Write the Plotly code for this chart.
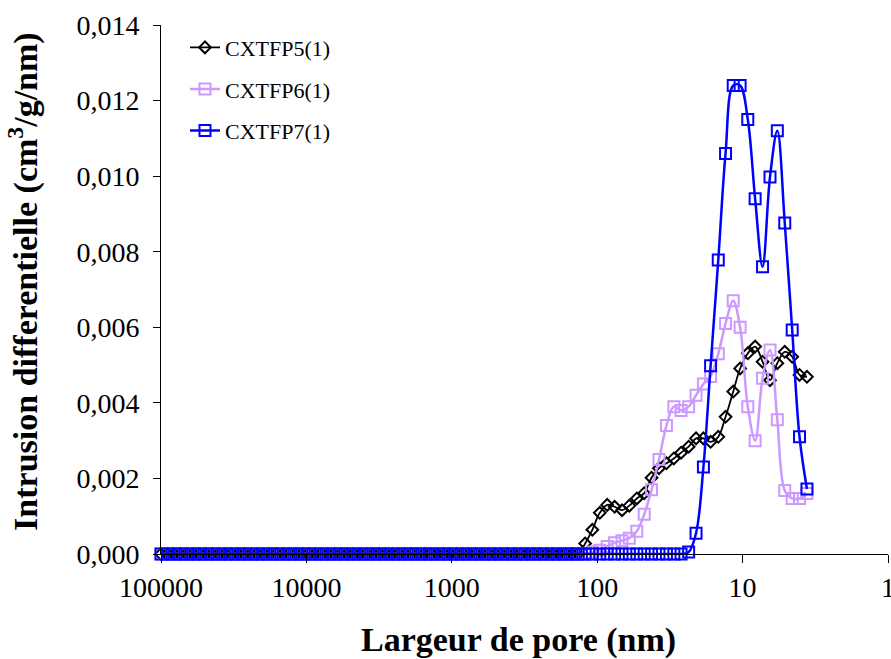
import plotly.graph_objects as go

# pore widths (nm), common grid of the three mercury intrusion curves
pore_nm = [
    100000, 90300, 81600, 73700, 66600, 60200, 54400, 49100, 44400, 40100,
    36200, 32700, 29500, 26700, 24100, 21800, 19700, 17800, 16000, 14500,
    13100, 11800, 10700, 9650, 8720, 7880, 7110, 6430, 5810, 5240,
    4740, 4280, 3870, 3490, 3150, 2850, 2570, 2330, 2100, 1900,
    1710, 1550, 1400, 1260, 1140, 1030, 931, 841, 760, 687,
    620, 560, 506, 457, 413, 373, 337, 304, 275, 248,
    224, 203, 183, 165, 149, 135,
    121, 108, 96.0, 85.4, 75.9, 67.5, 60.1, 53.4, 47.5, 42.3,
    37.6, 33.4, 29.7, 26.5, 23.5, 20.9, 18.6, 16.6, 14.7, 13.1,
    11.6, 10.4, 9.21, 8.20, 7.29, 6.48, 5.77, 5.13, 4.56, 4.06,
    3.61,
]

cxtfp5 = [
    0, 0, 0, 0, 0, 0, 0, 0, 0, 0, 0,
    0, 0, 0, 0, 0, 0, 0, 0, 0, 0, 0,
    0, 0, 0, 0, 0, 0, 0, 0, 0, 0, 0,
    0, 0, 0, 0, 0, 0, 0, 0, 0, 0, 0,
    0, 0, 0, 0, 0, 0, 0, 0, 0, 0, 0,
    0, 0, 0, 0, 0, 0, 0, 0, 0, 0, 0,
    0.00028, 0.00064, 0.00109, 0.00130, 0.00125, 0.00116, 0.00128, 0.00147, 0.00161, 0.00202,
    0.00227, 0.00240, 0.00253, 0.00268, 0.00284, 0.00306, 0.00306, 0.00297, 0.00310, 0.00363,
    0.00430, 0.00491, 0.00531, 0.00549, 0.00509, 0.00460, 0.00505, 0.00535, 0.00522, 0.00474,
    0.00469,
]

cxtfp6 = [
    0, 0, 0, 0, 0, 0, 0, 0, 0, 0, 0,
    0, 0, 0, 0, 0, 0, 0, 0, 0, 0, 0,
    0, 0, 0, 0, 0, 0, 0, 0, 0, 0, 0,
    0, 0, 0, 0, 0, 0, 0, 0, 0, 0, 0,
    0, 0, 0, 0, 0, 0, 0, 0, 0, 0, 0,
    0, 0, 0, 0, 0, 0, 0, 0, 0, 0, 0,
    0, 0.00005, 0.00010, 0.00020, 0.00030, 0.00035, 0.00042, 0.00060, 0.00105, 0.00170,
    0.00250, 0.00340, 0.00390, 0.00380, 0.00390, 0.00420, 0.00450, 0.00470, 0.00530, 0.00610,
    0.00670, 0.00600, 0.00390, 0.00300, 0.00465, 0.00540, 0.00355, 0.00168, 0.00147, 0.00147,
    0.00160,
]

cxtfp7 = [
    0, 0, 0, 0, 0, 0, 0, 0, 0, 0, 0,
    0, 0, 0, 0, 0, 0, 0, 0, 0, 0, 0,
    0, 0, 0, 0, 0, 0, 0, 0, 0, 0, 0,
    0, 0, 0, 0, 0, 0, 0, 0, 0, 0, 0,
    0, 0, 0, 0, 0, 0, 0, 0, 0, 0, 0,
    0, 0, 0, 0, 0, 0, 0, 0, 0, 0, 0,
    0, 0, 0, 0, 0, 0, 0, 0, 0, 0,
    0, 0, 0, 0, 0.00005, 0.00055, 0.00230, 0.00498, 0.00778, 0.01060,
    0.01240, 0.01240, 0.01150, 0.00940, 0.00760, 0.00998, 0.01120, 0.00876, 0.00593, 0.00310,
    0.00172,
]

x_tickvals = [100000, 10000, 1000, 100, 10, 1]
x_ticktext = ["100000", "10000", "1000", "100", "10", "1"]
y_tickvals = [0, 0.002, 0.004, 0.006, 0.008, 0.010, 0.012, 0.014]

FONT = "Liberation Serif"

series = [
    ("CXTFP5(1)", cxtfp5, "#000000", "diamond-open", 9, 1.8),
    ("CXTFP6(1)", cxtfp6, "#CC99FF", "square-open", 11, 2.5),
    ("CXTFP7(1)", cxtfp7, "#0000FF", "square-open", 11, 2.5),
]

fig = go.Figure()
for name, vals, color, symbol, msize, lw in series:
    fig.add_trace(go.Scatter(
        x=pore_nm, y=vals, name=name, legendgroup=name,
        mode="lines+markers", cliponaxis=False,
        line=dict(color=color, width=lw, shape="spline"),
        marker=dict(symbol=symbol, size=msize, color=color,
                    line=dict(color=color, width=2)),
    ))

fig.update_layout(
    width=891, height=659,
    margin=dict(l=161, r=3, t=25, b=105, autoexpand=False),
    paper_bgcolor="white", plot_bgcolor="white",
    separators=", ",
    font=dict(family=FONT, size=28, color="black"),
    showlegend=True,
    legend=dict(
        x=0.033, y=0.997, xanchor="left", yanchor="top",
        font=dict(family=FONT, size=22, color="black"),
        bgcolor="rgba(0,0,0,0)", tracegroupgap=10,
    ),
    annotations=[
        dict(text="<b>Intrusion differentielle (cm<sup>3</sup>/g/nm)</b>",
             xref="paper", yref="paper", x=-0.19, y=0.516,
             xanchor="center", yanchor="middle", textangle=-90,
             showarrow=False, font=dict(family=FONT, size=34, color="black")),
        dict(text="<b>Largeur de pore (nm)</b>",
             xref="paper", yref="paper", x=0.4924, y=-0.1626,
             xanchor="center", yanchor="middle",
             showarrow=False, font=dict(family=FONT, size=34, color="black")),
    ],
)

fig.update_xaxes(
    type="log", range=[5, 0], autorange=False, automargin=False,
    tickvals=x_tickvals, ticktext=x_ticktext,
    ticklabeloverflow="allow",
    showgrid=False, zeroline=False,
    showline=True, linecolor="black", linewidth=1,
    ticks="outside", ticklen=8, tickcolor="black",
)
fig.update_yaxes(
    range=[0, 0.014], autorange=False, automargin=False,
    tickvals=y_tickvals, tickformat=".3f",
    showgrid=False, zeroline=False,
    showline=True, linecolor="black", linewidth=1,
    ticks="outside", ticklen=7, tickcolor="black",
    ticklabelstandoff=8,
)

fig.write_html("out.html", config={"displayModeBar": False},
               post_script="document.body.style.margin='0';")
